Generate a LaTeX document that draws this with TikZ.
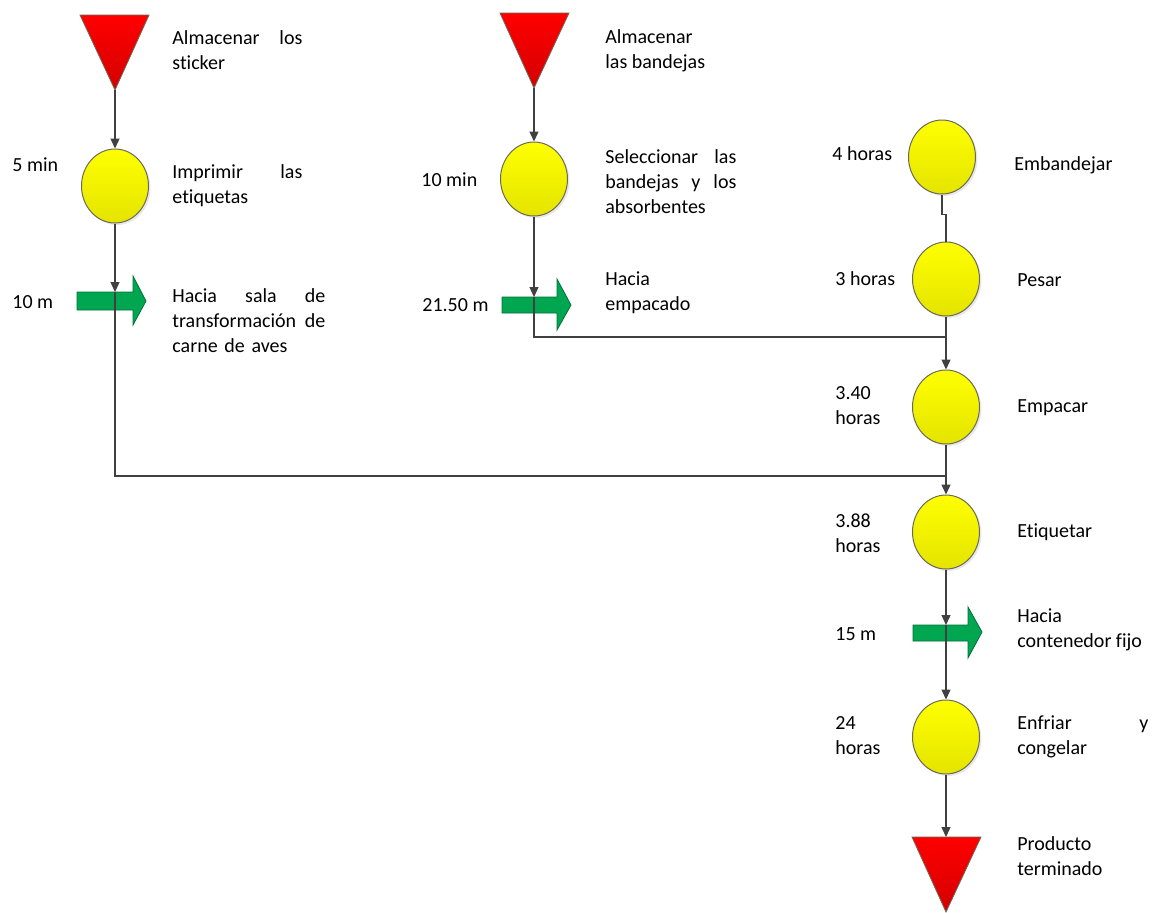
\documentclass[tikz,border=0pt]{standalone}
\usepackage{fontspec}
\setmainfont{Carlito}[Ligatures=NoCommon]
\usetikzlibrary{shapes.geometric, arrows.meta, shadows, positioning, calc}

\definecolor{linea}{HTML}{404040}
\definecolor{borde}{HTML}{6A6A5A}
\definecolor{amarillo}{HTML}{FFFF00}
\definecolor{amarillob}{HTML}{E4E400}
\definecolor{rojo}{HTML}{FF0000}
\definecolor{rojob}{HTML}{D40000}
\definecolor{verde}{HTML}{00A650}
\definecolor{verdeb}{HTML}{00703A}

\tikzset{
  opera/.style={ellipse, draw=borde, line width=0.5pt, top color=amarillo, bottom color=amarillob,
    minimum width=33.5pt, minimum height=37pt, inner sep=0pt,
    drop shadow={opacity=0.18, shadow xshift=1pt, shadow yshift=-1pt}},
  almacen/.style={draw=borde, line width=0.4pt, top color=rojo, bottom color=rojob},
  transp/.style={draw=verdeb, line width=0.4pt, fill=verde},
  flujo/.style={draw=linea, line width=0.65pt, -{Triangle[length=5pt,width=4.5pt]}},
  tramo/.style={draw=linea, line width=0.65pt},
  rotulo/.style={anchor=west, inner sep=0pt, align=left, font=\fontsize{10}{12.5}\selectfont},
}

\begin{document}
\begin{tikzpicture}[x=0.5pt, y=-0.5pt]
\useasboundingbox (0,0) rectangle (1152,912);

% almacenamientos
\path[almacen] (80,15) -- (149,15) -- (115,90) -- cycle;
\coordinate (alm1) at (115,90);
\path[almacen] (500,13) -- (569,13) -- (534,88) -- cycle;
\coordinate (alm2) at (534,88);
\path[almacen] (912,837) -- (981,837) -- (946,912) -- cycle;
\coordinate (alm3) at (946,837);

% operaciones
\node[opera] (imp) at (115,186) {};
\node[opera] (sel) at (534,179) {};
\node[opera] (emb) at (942,157) {};
\node[opera] (pes) at (946,279) {};
\node[opera] (emp) at (946,407) {};
\node[opera] (eti) at (946,532) {};
\node[opera] (enf) at (946,737) {};

% transportes
\path[transp] (77,292) -- (133,292) -- (133,276) -- (146,301) -- (133,325) -- (133,310) -- (77,310) -- cycle;
\coordinate (tr1) at (115,292);
\path[transp] (502,297) -- (557,297) -- (557,279) -- (571,305) -- (557,330) -- (557,313) -- (502,313) -- cycle;
\coordinate (tr2) at (534,297);
\path[transp] (913,625) -- (968,625) -- (968,607) -- (982,632) -- (968,658) -- (968,641) -- (913,641) -- cycle;
\coordinate (tr3) at (946,625);

% uniones
\coordinate (j1) at (946,337);
\coordinate (j2) at (946,476);

% flujo
\draw[flujo] (alm1) -- (imp.north);
\draw[flujo] (imp.south) -- (tr1);
\draw[flujo] (tr1) |- (j2) -- (eti.north);
\draw[flujo] (alm2) -- (sel.north);
\draw[flujo] (sel.south) -- (tr2);
\draw[flujo] (tr2) |- (j1) -- (emp.north);
\draw[tramo] (emb.south) -- ++(0,20) -| (pes.north);
\draw[tramo] (pes.south) -- (j1);
\draw[tramo] (emp.south) -- (j2);
\draw[flujo] (eti.south) -- (tr3);
\draw[flujo] (tr3) -- (enf.north);
\draw[flujo] (enf.south) -- (alm3);

% tiempos y distancias
\node[rotulo] (d-imp) at (12,165) {5 min};
\node[rotulo] (d-tr1) at (12,302) {10 m};
\node[rotulo] (d-sel) at (421,180) {10 min};
\node[rotulo] (d-tr2) at (422,305) {21.50 m};
\node[rotulo] (d-emb) at (832,154) {4 horas};
\node[rotulo] (d-pes) at (835,279) {3 horas};
\node[rotulo] (d-emp) at (835,406) {3.40\\horas};
\node[rotulo] (d-eti) at (835,533) {3.88\\horas};
\node[rotulo] (d-tr3) at (835,634) {15 m};
\node[rotulo] (d-enf) at (835,736) {24\\horas};

% descripciones
\node[rotulo, text width=65pt] (t-alm1) at (172,50) {Almacenar\hfill los\\sticker};
\node[rotulo, text width=65pt] (t-imp) at (172,186) {Imprimir\hfill las\\etiquetas};
\node[rotulo, text width=76.5pt] (t-tr1) at (172,321) {Hacia\hfill sala\hfill de\\transformación\hfill de\\carne de aves};
\node[rotulo] (t-alm2) at (605,51) {Almacenar\\las bandejas};
\node[rotulo, text width=65.5pt] (t-sel) at (605,182) {Seleccionar\hfill las\\bandejas\hfill y\hfill los\\absorbentes};
\node[rotulo] (t-tr2) at (605,293) {Hacia\\empacado};
\node[rotulo] (t-emb) at (1014,165) {Embandejar};
\node[rotulo] (t-pes) at (1017,280) {Pesar};
\node[rotulo] (t-emp) at (1017,408) {Empacar};
\node[rotulo] (t-eti) at (1017,532) {Etiquetar};
\node[rotulo] (t-tr3) at (1017,630) {Hacia\\contenedor fijo};
\node[rotulo, text width=65.5pt] (t-enf) at (1017,737) {Enfriar\hfill y\\congelar};
\node[rotulo] (t-alm3) at (1017,856) {Producto\\terminado};
\end{tikzpicture}
\end{document}
